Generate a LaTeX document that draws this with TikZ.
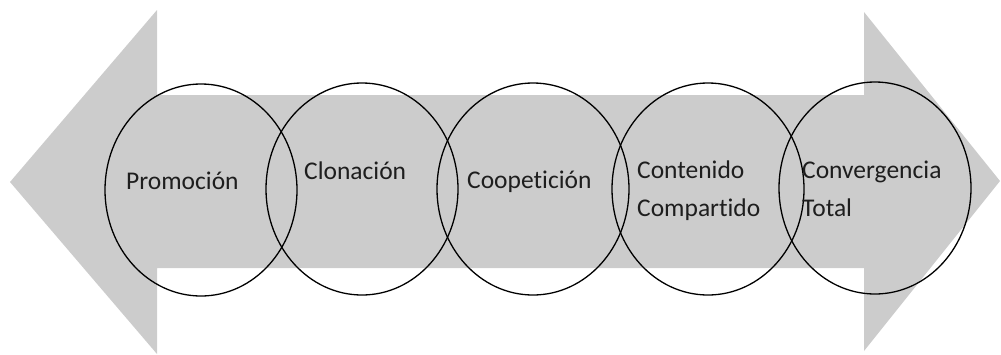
\documentclass[tikz,border=0pt]{standalone}
\usepackage{fontspec}
\setmainfont{Carlito}[Ligatures={NoCommon}]
\usetikzlibrary{shapes.geometric}
\definecolor{bandgray}{RGB}{204,204,204}
\definecolor{txtgray}{RGB}{30,30,30}
\begin{document}
\begin{tikzpicture}[x=1pt,y=-1pt,
  ring/.style={draw=black, line width=1.3pt, ellipse, inner sep=0pt,
    minimum width=192pt, minimum height=212pt},
  lbl/.style={anchor=base west, inner sep=0pt, text=txtgray,
    font=\fontsize{25.5}{38}\selectfont, align=left}]
\useasboundingbox (0,0) rectangle (1001,354);
% double-headed band
\fill[bandgray] (10,182) -- (157,10) -- (157,95) -- (864,95) -- (864,12)
  -- (1000,181) -- (864,351) -- (864,268) -- (157,268) -- (157,354) -- cycle;
% overlapping rings
\node[ring] (r1) at (201,190) {};
\node[ring] (r2) at (362,189) {};
\node[ring] (r3) at (533,189) {};
\node[ring] (r4) at (708,189) {};
\node[ring] (r5) at (875,188) {};
% labels (base anchor sits on the last line of two-line labels)
\node[lbl] (t1) at (126,189) {Promoción};
\node[lbl] (t2) at (304,179) {Clonación};
\node[lbl] (t3) at (467,188) {Coopetición};
\node[lbl] (t4) at (637,216) {Contenido\\Compartido};
\node[lbl] (t5) at (802,216) {Convergencia\\Total};
\end{tikzpicture}
\end{document}
